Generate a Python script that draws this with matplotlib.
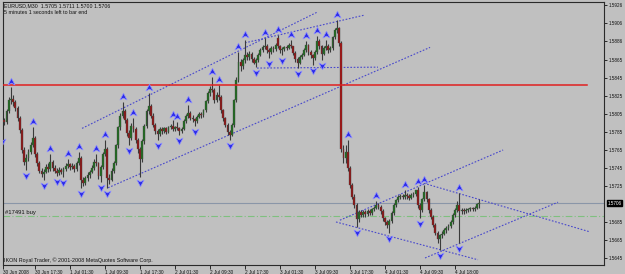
import matplotlib
matplotlib.use('Agg')
import matplotlib.pyplot as plt
from matplotlib.path import Path
from matplotlib.transforms import offset_copy, blended_transform_factory

# ---------------- data (prices in pips above BASE) ----------------
BASE = 1.5600
opens = [190,193,198,196,208,220,222,218,212,200,187,165,152,156,163,171,178,160,150,142,
         138,141,146,144,152,145,142,139,143,140,144,147,149,146,147,144,150,156,132,128,
         134,137,141,145,152,150,136,146,160,166,134,132,142,150,170,190,203,208,198,184,
         178,192,188,176,166,155,175,192,208,214,203,193,186,183,188,186,189,185,190,192,
         188,190,189,186,188,197,203,206,201,199,197,202,205,204,209,219,228,233,232,220,
         226,224,209,200,193,185,182,193,220,243,263,258,265,271,268,272,266,262,265,271,
         276,279,281,276,274,278,277,289,280,276,277,279,278,282,280,273,266,262,268,271,
         276,282,274,270,267,274,286,280,272,278,281,276,278,290,298,300,284,166,156,163,
         145,126,113,104,88,96,93,96,94,97,95,99,101,104,102,97,89,85,82,86,
         95,104,109,113,114,113,115,114,112,115,116,120,104,98,110,118,110,98,91,82,
         73,66,70,72,76,78,80,85,93,98,104,97,98,97,98,99,100,99,101,105]
closes = [193,198,196,208,220,222,218,212,200,187,165,152,156,163,171,178,160,150,142,138,
          141,146,144,152,145,142,139,143,140,144,147,149,146,147,144,150,156,132,128,134,
          137,141,145,152,150,136,146,160,166,134,132,142,150,170,190,203,208,198,184,178,
          192,188,176,166,155,175,192,208,214,203,193,186,183,188,186,189,185,190,192,188,
          190,189,186,188,197,203,206,201,199,197,202,205,204,209,219,228,233,232,220,226,
          224,209,200,193,185,182,193,220,243,263,258,265,271,268,272,266,262,265,271,276,
          279,281,276,274,278,277,282,280,276,277,279,278,282,280,273,266,262,268,271,276,
          282,274,270,267,274,286,280,272,278,281,276,278,290,298,300,284,166,156,163,145,
          126,113,104,88,96,93,96,94,97,95,99,101,104,102,97,89,85,82,86,95,
          104,109,113,114,113,115,114,112,115,116,120,104,98,110,118,110,98,91,82,73,
          66,70,72,76,78,80,85,93,98,104,97,98,97,98,99,100,99,101,105,106]
highs = [196,200,201,210,224,235,226,221,214,203,189,168,160,166,174,190,181,163,153,145,
         144,149,150,160,154,148,145,146,145,146,150,155,151,150,149,153,163,158,135,136,
         140,143,148,155,160,152,148,163,176,168,138,145,153,172,192,206,218,211,200,187,
         195,200,190,178,168,177,194,211,228,216,206,195,188,190,190,191,191,192,194,198,
         192,196,191,190,199,205,215,208,204,201,204,207,207,211,221,230,236,246,234,229,
         237,226,211,202,195,187,195,222,246,274,266,267,287,274,275,274,268,267,273,278,
         282,289,283,278,280,281,284,293,282,279,281,282,284,287,281,275,268,270,273,278,
         286,283,276,272,276,292,288,282,280,287,283,280,292,301,309,302,286,171,170,176,
         147,128,116,106,98,98,98,98,99,99,101,103,108,106,104,99,91,87,88,97,
         106,111,115,116,116,121,117,116,117,118,121,124,106,112,126,119,112,100,93,84,
         75,72,75,78,80,83,87,95,100,108,117,101,100,100,101,102,102,103,106,111]
lows = [186,180,193,194,206,216,214,208,197,184,162,148,143,153,160,168,157,147,139,135,
        132,139,141,142,142,139,136,137,138,135,142,145,143,144,141,142,148,123,125,126,
        131,134,139,143,147,133,129,144,158,123,127,130,139,148,167,187,200,195,181,171,
        176,185,173,162,135,152,172,189,205,200,190,183,176,181,183,184,183,184,188,186,
        186,187,182,184,187,195,201,198,196,192,195,200,201,202,207,217,225,229,217,218,
        221,206,197,190,182,176,180,191,218,240,253,255,262,265,265,263,260,257,263,269,
        274,277,273,267,272,274,275,278,273,270,275,276,277,278,270,263,256,260,266,269,
        274,271,267,259,265,272,277,265,270,276,273,274,276,288,295,281,163,150,151,142,
        123,110,101,79,85,90,91,91,92,93,93,97,99,99,94,86,82,78,73,84,
        93,102,107,111,110,111,111,109,110,113,114,101,89,96,108,107,95,88,79,70,
        62,54,67,70,73,76,78,83,91,96,62,94,94,95,96,97,97,97,99,100]

up_fractals = [5,15,23,31,36,44,48,56,61,68,79,81,86,97,100,109,112,121,127,133,140,145,
               149,154,159,172,185,191,194,210]
down_fractals = [1,12,20,26,29,37,46,49,59,64,72,82,89,105,117,123,129,136,143,147,163,
                 178,192,201,210]

time_tick_idx = [1.4,16,32,48,64,80,96,112,128,144,160,176,192,208]
time_tick_labels = ['30 Jun 2008','30 Jun 17:30','1 Jul 01:30','1 Jul 09:30','1 Jul 17:30',
                    '2 Jul 01:30','2 Jul 09:30','2 Jul 17:30','3 Jul 01:30','3 Jul 09:30',
                    '3 Jul 17:30','4 Jul 01:30','4 Jul 09:30','4 Jul 18:00']
price_ticks = [1.5926,1.5906,1.5886,1.5865,1.5845,1.5825,1.5805,1.5785,1.5765,1.5745,
               1.5725,1.5685,1.5665,1.5645]
current_price = 1.5706
order_price = 1.5692
resistance_price = 1.5837
resistance_end_idx = 268.3
# trend lines: (start index, start price, end index, end price)
trend_lines = [
    (37.5, 1.5789, 144.9, 1.5918),
    (49.4, 1.5723, 196.6, 1.5879),
    (112.0, 1.5884, 166.9, 1.5915),
    (117.5, 1.5856, 172.8, 1.5857),
    (155.4, 1.5687, 230.0, 1.5765),
    (153.6, 1.5685, 218.5, 1.5643),
    (193.8, 1.5728, 269.7, 1.5674),
    (194.3, 1.5645, 255.1, 1.5707),
]

# ---------------- figure ----------------
W, H = 625, 274
BG = '#c0c0c0'
fig = plt.figure(figsize=(W/100, H/100), dpi=100, facecolor=BG)
ax = fig.add_axes([3/W, 9/H, 601/W, 263/H], facecolor=BG)
PX = 2.1875
ax.set_xlim(3/PX, 604/PX)
ax.set_ylim(1.56372, 1.59294)

FONT = ['Liberation Sans', 'DejaVu Sans']

def pr(v):
    return BASE + v/10000.0

# candles
for i in range(len(closes)):
    o, c, h, l = pr(opens[i]), pr(closes[i]), pr(highs[i]), pr(lows[i])
    ax.vlines(i, l, h, color='#3a3a3a', lw=0.8, zorder=3)
    col = '#1f6b1f' if c >= o else '#8e1414'
    if i == 156:
        col = '#a81010'
    hgt = c - o
    if abs(hgt) < 0.00005:
        hgt = 0.00005
    ax.bar(i, hgt, bottom=o, width=0.85, color=col, edgecolor='#4a4a4a', lw=0.25, zorder=4)

# horizontal lines
ax.axhline(current_price, color='#8a96a8', lw=0.8, zorder=2)
ax.axhline(order_price, color='#7fc07f', lw=0.8, ls=(0, (6, 2, 1, 2)), zorder=2)
ax.plot([3/PX, resistance_end_idx], [resistance_price]*2, color='#e02020', lw=1.1, zorder=5)

# trend lines
for x0, y0, x1, y1 in trend_lines:
    ax.plot([x0, x1], [y0, y1], color='#4848cc', lw=0.8, ls=(0, (1.5, 1.5)), zorder=2)

# fractals
up_path = Path([(0, 1), (0.85, -0.6), (0, -0.15), (-0.85, -0.6), (0, 1)],
               [Path.MOVETO, Path.LINETO, Path.LINETO, Path.LINETO, Path.CLOSEPOLY])
dn_path = Path([(0, -1), (0.85, 0.6), (0, 0.15), (-0.85, 0.6), (0, -1)],
               [Path.MOVETO, Path.LINETO, Path.LINETO, Path.LINETO, Path.CLOSEPOLY])
tr_up = offset_copy(ax.transData, fig=fig, x=0, y=5, units='dots')
tr_dn = offset_copy(ax.transData, fig=fig, x=0, y=-5, units='dots')
ax.plot(up_fractals, [pr(highs[i]) for i in up_fractals], ls='none', marker=up_path,
        markersize=6, mfc='#2a2ae8', mec='#8c8cff', mew=0.5, transform=tr_up, zorder=6)
ax.plot(down_fractals, [pr(lows[i]) for i in down_fractals], ls='none', marker=dn_path,
        markersize=6, mfc='#2a2ae8', mec='#8c8cff', mew=0.5, transform=tr_dn, zorder=6)

# axes styling
for s in ax.spines.values():
    s.set_color('#2a2a2a')
    s.set_linewidth(0.8)
ax.yaxis.tick_right()
ax.set_yticks(price_ticks)
ax.set_yticklabels(['%.4f' % p for p in price_ticks], fontfamily=FONT)
ax.tick_params(axis='y', direction='out', length=2.5, width=0.6, pad=1.0, labelsize=3.3,
               colors='#111111')
ax.set_xticks(time_tick_idx)
ax.set_xticklabels(time_tick_labels, fontfamily=FONT)
ax.tick_params(axis='x', direction='out', length=3, width=0.6, pad=0.5, labelsize=3.4,
               colors='#111111')
for lbl in ax.get_xticklabels():
    lbl.set_horizontalalignment('left')

# current price box
tb = blended_transform_factory(ax.transAxes, ax.transData)
ax.text(1.006, current_price, '%.4f' % current_price, transform=tb, ha='left', va='center',
        fontsize=3.3, color='white', family=FONT,
        bbox=dict(boxstyle='square,pad=0.15', fc='black', ec='black'), zorder=10, clip_on=False)

# texts
fig.text(4/W, 1-5.5/H, 'EURUSD,M30  1.5705 1.5711 1.5700 1.5706', fontsize=3.8,
         family=FONT, va='center', ha='left', color='#111111')
fig.text(4/W, 1-12/H, '5 minutes 1 seconds left to bar end', fontsize=3.8,
         family=FONT, va='center', ha='left', color='#111111')
fig.text(5/W, 1-212.5/H, '#17491 buy', fontsize=4.2, family=FONT, va='center', ha='left',
         color='#111111')
fig.text(4/W, 1-260/H, 'IKON Royal Trader, \u00a9 2001-2008 MetaQuotes Software Corp.',
         fontsize=3.9, family=FONT, va='center', ha='left', color='#111111')

fig.savefig('out.png', dpi=100, facecolor=BG)
